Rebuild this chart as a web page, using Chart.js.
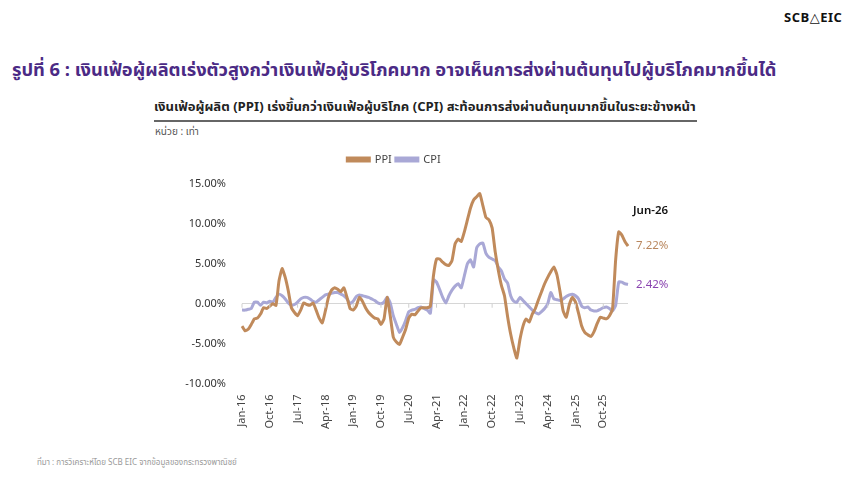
<!DOCTYPE html>
<html>
<head>
<meta charset="utf-8">
<script src="https://cdn.jsdelivr.net/npm/chart.js@4.4.1/dist/chart.umd.min.js"></script>
<style>
  html, body { margin: 0; padding: 0; background: #fff; }
  body { width: 860px; height: 484px; position: relative; overflow: hidden; font-family: "Noto Sans Thai", "Noto Sans", "DejaVu Sans", sans-serif; }
  .logo { position: absolute; left: 784px; top: 8px; font-size: 13px; font-weight: bold; color: #111; letter-spacing: 0.5px; }
  .title { position: absolute; left: 12px; top: 57px; font-size: 18.3px; font-weight: bold; color: #4b2a85; white-space: nowrap; }
  .subtitle { position: absolute; left: 154px; top: 97px; width: 543px; font-size: 13.1px; font-weight: bold; color: #222; white-space: nowrap; border-bottom: 2px solid #666; padding-bottom: 3px; }
  .unit { position: absolute; left: 155px; top: 124px; font-size: 10px; color: #555; }
  .source { position: absolute; left: 37px; top: 457px; font-size: 8px; color: #999; }
  #chart { position: absolute; left: 0; top: 0; }
</style>
</head>
<body>
<div class="logo">SCB&#x25B3;EIC</div>
<div class="title">รูปที่ 6 : เงินเฟ้อผู้ผลิตเร่งตัวสูงกว่าเงินเฟ้อผู้บริโภคมาก อาจเห็นการส่งผ่านต้นทุนไปผู้บริโภคมากขึ้นได้</div>
<div class="subtitle">เงินเฟ้อผู้ผลิต (PPI) เร่งขึ้นกว่าเงินเฟ้อผู้บริโภค (CPI) สะท้อนการส่งผ่านต้นทุนมากขึ้นในระยะข้างหน้า</div>
<div class="unit">หน่วย : เท่า</div>
<div class="source">ที่มา : การวิเคราะห์โดย SCB EIC จากข้อมูลของกระทรวงพาณิชย์</div>
<canvas id="chart" width="860" height="484"></canvas>
<script>
// months Jan-16 .. Jun-26
var monthNames = ['Jan', 'Feb', 'Mar', 'Apr', 'May', 'Jun', 'Jul', 'Aug', 'Sep', 'Oct', 'Nov', 'Dec'];
var months = [];
for (var yr = 16; yr <= 26; yr++) {
  for (var mo = 0; mo < 12; mo++) {
    if (yr === 26 && mo > 5) break;
    months.push(monthNames[mo] + '-' + yr);
  }
}

// PPI, % y/y
var ppi = [
  -2.8, -3.4, -3.2, -2.6, -1.9, -1.8, -1.3, -0.5, -0.6, -0.3, 0.0, -0.2,
  2.9, 4.4, 3.3, 1.6, -0.5, -1.1, -1.5, -0.8, 0.1, -0.1, -0.2, 0.1,
  -0.8, -1.8, -2.4, -0.9, 0.8, 1.7, 2.0, 1.8, 1.5, 2.0, 0.8, -0.6,
  -0.8, -0.3, 0.8, 0.3, -0.5, -1.1, -1.5, -1.8, -1.9, -2.6, -1.9, 0.8,
  -1.5, -4.2, -4.8, -5.1, -4.2, -3.2, -1.8, -1.3, -1.4, -0.9, -0.5, -0.5,
  -0.5, -0.3, 3.5, 5.6, 5.6, 5.2, 4.9, 4.8, 5.4, 7.5, 8.1, 7.8,
  9.0, 10.5, 12.0, 13.0, 13.4, 13.8, 12.3, 10.8, 10.5, 9.5, 6.5, 4.2,
  2.3, 1.0, -1.6, -3.8, -5.5, -6.8, -4.5, -2.8, -1.9, -2.3, -1.3, -0.6,
  0.5, 1.5, 2.5, 3.3, 4.0, 4.6, 3.6, 1.5, -0.9, -1.7, -0.1, 0.8,
  0.2, -1.2, -2.8, -3.6, -3.9, -4.1, -3.5, -2.5, -1.7, -1.8, -1.9, -1.5,
  -0.6, 5.5, 9.0, 8.6, 7.8, 7.22
];

// CPI, % y/y
var cpi = [
  -0.8, -0.8, -0.7, -0.6, 0.2, 0.2, -0.2, 0.2, 0.1, 0.3, 0.2, 0.8,
  1.2, 1.0, 0.6, 0.1, -0.2, -0.1, 0.2, 0.6, 0.8, 0.8, 0.6, 0.3,
  0.2, 0.5, 0.8, 1.1, 1.2, 1.3, 1.4, 1.4, 1.2, 1.0, 0.6, 0.0,
  0.3, 0.9, 1.1, 1.0, 0.9, 0.8, 0.6, 0.4, 0.1, 0.0, 0.2, 0.8,
  0.1, -1.5, -2.6, -3.6, -3.0, -2.1, -1.0, -0.8, -0.7, -0.5, -0.4, -0.6,
  -0.8, -1.2, 3.0, 2.7, 1.8, 0.8, 0.1, 1.0, 1.7, 2.2, 2.5, 2.0,
  3.5, 5.0, 5.5, 4.6, 7.0, 7.5, 7.6, 6.3, 5.8, 5.6, 5.4, 4.6,
  4.1, 3.1, 2.6, 1.0, 0.3, 0.2, 0.8, 0.4, 0.0, -0.4, -0.8, -1.1,
  -1.3, -1.0, -0.6, 0.0, 1.4, 0.6, 0.5, 0.4, 0.6, 0.9, 1.1, 1.2,
  1.0, 0.6, -0.3, -0.5, -0.4, -0.8, -0.9, -0.9, -0.7, -0.5, -0.4, -0.6,
  -0.9, -0.2, 2.7, 2.7, 2.5, 2.42
];

var yTicks = [-10, -5, 0, 5, 10, 15];
var labelEvery = 9;

var ppiColor = '#c08a5b';
var cpiColor = '#a9a8d6';

// taller legend box so the plot starts lower
var legendGap = {
  id: 'legendGap',
  beforeInit: function (chart) {
    var fit = chart.legend.fit;
    chart.legend.fit = function () {
      fit.bind(chart.legend)();
      this.height += 9;
    };
  }
};

// small tick marks on the zero line + end-of-series labels
var extras = {
  id: 'extras',
  afterDatasetsDraw: function (chart) {
    var ctx = chart.ctx;
    var xs = chart.scales.x;
    var ys = chart.scales.y;
    var y0 = ys.getPixelForValue(0);
    ctx.save();
    ctx.strokeStyle = '#cfcfcf';
    ctx.lineWidth = 1;
    for (var i = 0; i < months.length; i += labelEvery) {
      var x = xs.getPixelForValue(i);
      ctx.beginPath();
      ctx.moveTo(x, y0);
      ctx.lineTo(x, y0 + 4);
      ctx.stroke();
    }
    var last = months.length - 1;
    var p1 = chart.getDatasetMeta(0).data[last];
    var p2 = chart.getDatasetMeta(1).data[last];
    ctx.font = '11.5px "Noto Sans", sans-serif';
    ctx.textBaseline = 'middle';
    ctx.fillStyle = '#b9875e';
    ctx.fillText(ppi[last].toFixed(2) + '%', p1.x + 8, p1.y);
    ctx.fillStyle = '#8a44b0';
    ctx.fillText(cpi[last].toFixed(2) + '%', p2.x + 8, p2.y);
    ctx.fillStyle = '#111';
    ctx.font = '600 11.5px "Noto Sans", sans-serif';
    ctx.fillText(months[last], p1.x + 5, ys.getPixelForValue(11.6));
    ctx.restore();
  }
};

new Chart(document.getElementById('chart'), {
  type: 'line',
  data: {
    labels: months,
    datasets: [
      {
        label: 'PPI',
        data: ppi,
        borderColor: ppiColor,
        backgroundColor: ppiColor,
        borderWidth: 3,
        pointRadius: 0,
        tension: 0.15,
      },
      {
        label: 'CPI',
        data: cpi,
        borderColor: cpiColor,
        backgroundColor: cpiColor,
        borderWidth: 3,
        pointRadius: 0,
        tension: 0.15,
      },
    ],
  },
  options: {
    responsive: false,
    animation: false,
    layout: {
      padding: { left: 160, right: 232, top: 150, bottom: 52 },
    },
    plugins: {
      legend: {
        display: true,
        labels: {
          boxWidth: 22,
          boxHeight: 3,
          padding: 4,
          color: '#444',
          font: { size: 11, family: '"Noto Sans", sans-serif' },
        },
      },
      tooltip: { enabled: false },
    },
    scales: {
      x: {
        grid: { display: false },
        border: { display: false },
        ticks: {
          autoSkip: false,
          maxRotation: 90,
          minRotation: 90,
          color: '#444',
          font: { size: 11, family: '"Noto Sans", sans-serif' },
          callback: function (value, index) {
            return index % labelEvery === 0 ? months[index] : null;
          },
        },
      },
      y: {
        min: yTicks[0],
        max: yTicks[yTicks.length - 1],
        afterFit: function (scale) { scale.width = 82; },
        afterBuildTicks: function (scale) {
          scale.ticks = yTicks.map(function (v) { return { value: v }; });
        },
        border: { display: false },
        grid: {
          drawTicks: false,
          color: function (ctx) { return ctx.tick && ctx.tick.value === 0 ? '#d6d6d6' : 'transparent'; },
        },
        ticks: {
          padding: 16,
          color: '#333',
          font: { size: 11, family: '"Noto Sans", sans-serif' },
          callback: function (value) {
            return value.toFixed(2) + '%';
          },
        },
      },
    },
  },
  plugins: [legendGap, extras],
});
</script>
</body>
</html>
